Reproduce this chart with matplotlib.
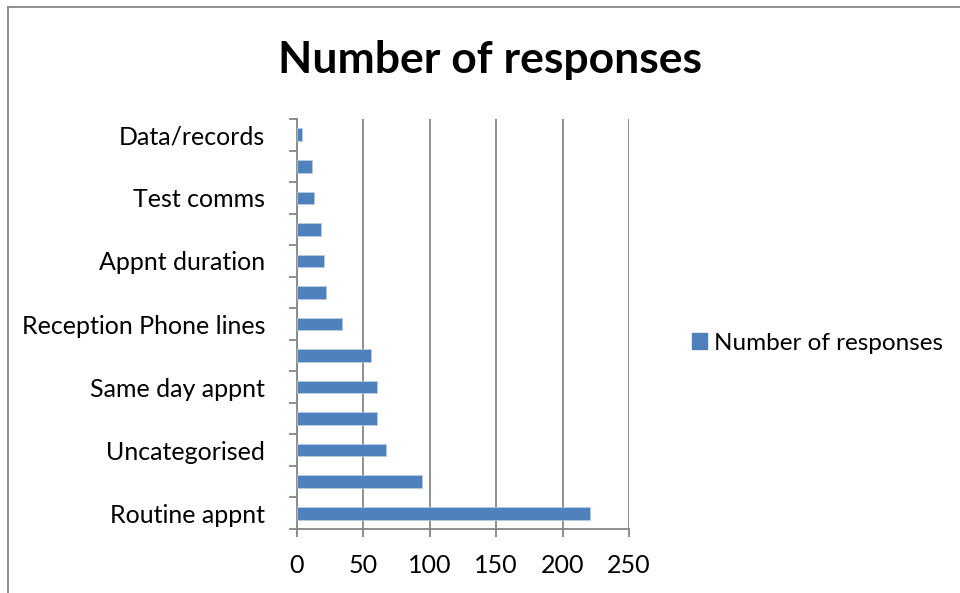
import matplotlib
matplotlib.use("Agg")
import matplotlib.pyplot as plt
from matplotlib.patches import Rectangle
import numpy as np

plt.rcParams['font.family'] = ['Lato', 'DejaVu Sans']

# Categories listed bottom to top; blank entries carry no label on the axis
categories = ["Routine appnt", "", "Uncategorised", "", "Same day appnt", "",
              "Reception Phone lines", "", "Appnt duration", "", "Test comms", "",
              "Data/records"]
responses = [221, 94, 67, 60, 60, 56, 34, 22, 20, 18, 13, 11, 4]
x_ticks = [0, 50, 100, 150, 200, 250]
series_name = "Number of responses"
title = "Number of responses"

W, H = 960, 593
fig = plt.figure(figsize=(W / 100, H / 100), dpi=100)
fig.patch.set_facecolor("white")

# outer chart border (left and top edges visible)
grey = "#868686"
fig.add_artist(plt.Line2D([7.5 / W, 7.5 / W], [0, 1 - 7 / H], color=grey, lw=1.3,
                          transform=fig.transFigure))
fig.add_artist(plt.Line2D([7.5 / W, 1], [1 - 7 / H, 1 - 7 / H], color=grey, lw=1.3,
                          transform=fig.transFigure))

left, right = 297 / W, 629 / W
top, bottom = 1 - 119 / H, 1 - 529 / H
ax = fig.add_axes([left, bottom, right - left, top - bottom])

y = np.arange(len(categories))
bars = ax.barh(y, responses, height=0.4, color="#4F81BD", edgecolor="#B9CDE5",
               linewidth=0.5, zorder=3, label=series_name)

ax.set_xlim(0, 250)
ax.set_ylim(-0.5, len(categories) - 0.5)
ax.set_xticks(x_ticks)
ax.set_xticklabels([str(v) for v in x_ticks], fontsize=18)

# major ticks at category boundaries, labels at category centres
ax.set_yticks(np.arange(-0.5, len(categories), 1.0))
ax.set_yticklabels([])
ax.set_yticks(y, minor=True)
ax.set_yticklabels(categories, minor=True, fontsize=18)
ax.tick_params(axis="y", which="major", length=6, width=1.3, color=grey, direction="out")
ax.tick_params(axis="y", which="minor", length=0, pad=23)
ax.tick_params(axis="x", which="major", length=6, width=1.3, color=grey, direction="out", pad=12)

ax.grid(axis="x", color=grey, linewidth=1.3, zorder=0)
ax.grid(axis="y", visible=False)
for side in ("top", "right"):
    ax.spines[side].set_visible(False)
for side in ("left", "bottom"):
    ax.spines[side].set_color(grey)
    ax.spines[side].set_linewidth(1.3)

fig.text(490 / W, 1 - 60 / H, title, fontsize=32, fontweight="bold",
         ha="center", va="center")

leg = fig.legend(handles=[Rectangle((0, 0), 1, 1, color="#4F81BD")], labels=[series_name],
                 loc="center left", bbox_to_anchor=(692 / W, 1 - 343 / H),
                 frameon=False, fontsize=17.5, handlelength=0.62, handleheight=0.62,
                 handletextpad=0.3, borderaxespad=0, borderpad=0)

fig.savefig("out.png", dpi=100, facecolor="white")
